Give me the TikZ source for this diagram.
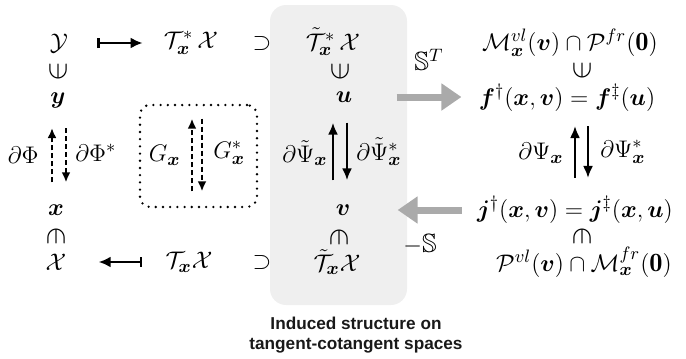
\documentclass[tikz,border=0pt]{standalone}
\usepackage{amsmath,amssymb,bm}
\usepackage{fontspec}
\newfontfamily\capfont{Liberation Sans}
\usetikzlibrary{arrows.meta,calc}
\definecolor{boxgray}{HTML}{EFEFEF}
\definecolor{arrgray}{HTML}{AAAAAA}
\begin{document}
\begin{tikzpicture}[x=0.5pt,y=-0.5pt,
  every node/.style={inner sep=0pt, font=\fontsize{13.2}{15}\selectfont},
  memb/.style={scale=1.25},
  mapar/.style={line width=1.1pt, {Bar[width=5pt,line width=1.1pt]}-{Latex[length=6pt,width=5.5pt]}},
  dasharr/.style={line width=1.4pt, dash pattern=on 2.5pt off 1.5pt, -{Latex[length=5pt,width=4.5pt]}},
  solarr/.style={line width=1.1pt, -{Latex[length=6pt,width=5pt]}},
  grayarr/.style={draw=arrgray, line width=3.5pt, -{Triangle[length=10pt,width=13pt]}},
  dotbox/.style={draw, line width=1.3pt, dash pattern=on 0pt off 3.6pt, line cap=round, rounded corners=5pt, minimum width=58.5pt, minimum height=51pt},
  capt/.style={font=\capfont\bfseries\fontsize{8.6}{10}\selectfont, align=center, text=black!90}
]
\useasboundingbox (0,0) rectangle (686,359);
\fill[boxgray, rounded corners=8pt] (270,5) rectangle (407,305);
\node[dotbox] (Gbox) at (198.5,156) {};

% left column
\node (Y) at (59,43) {$\mathcal{Y}$};
\node[rotate=90,memb] (ni1) at (58,71) {$\in$};
\node (y) at (58,100) {$\bm{y}$};
\node (x) at (56,210) {$\bm{x}$};
\node[rotate=-90,memb] (in1) at (56,236) {$\in$};
\node (X) at (56,262) {$\mathcal{X}$};

% second column
\node (TsX) at (191,43) {$\mathcal{T}^*_{\bm{x}}\,\mathcal{X}$};
\node (TX) at (189,262) {$\mathcal{T}_{\bm{x}}\mathcal{X}$};
\node (sup1) at (262,43) {$\supset$};
\node (sup2) at (262,262) {$\supset$};

% middle column
\node (TtsX) at (333,42) {$\tilde{\mathcal{T}}^*_{\bm{x}}\,\mathcal{X}$};
\node[rotate=90,memb] (ni2) at (340,71) {$\in$};
\node (u) at (344,97) {$\bm{u}$};
\node (v) at (343,210) {$\bm{v}$};
\node[rotate=-90,memb] (in2) at (339,237) {$\in$};
\node (TtX) at (337,262) {$\tilde{\mathcal{T}}_{\bm{x}}\mathcal{X}$};

% right column
\node (MP) at (570,43) {$\mathcal{M}^{vl}_{\bm{x}}(\bm{v})\cap\mathcal{P}^{fr}(\mathbf{0})$};
\node[rotate=90,memb] (ni3) at (582,70) {$\in$};
\node (f) at (567,98) {$\bm{f}^\dagger(\bm{x},\bm{v})=\bm{f}^\ddagger(\bm{u})$};
\node (j) at (575,210) {$\bm{j}^\dagger(\bm{x},\bm{v})=\bm{j}^\ddagger(\bm{x},\bm{u})$};
\node[rotate=-90,memb] (in3) at (582,236) {$\in$};
\node (PM) at (584,262) {$\mathcal{P}^{vl}(\bm{v})\cap\mathcal{M}^{fr}_{\bm{x}}(\mathbf{0})$};

% labels
\node[anchor=east] (dP) at (39,155) {$\partial\Phi$};
\node[anchor=west] (dPs) at (75,153) {$\partial\Phi^*$};
\node[anchor=east] (Gx) at (181,155) {$G_{\bm{x}}$};
\node[anchor=west] (Gxs) at (213,153) {$G^*_{\bm{x}}$};
\node[anchor=east] (dPt) at (328,153) {$\partial\tilde{\Psi}_{\bm{x}}$};
\node[anchor=west] (dPts) at (356,152) {$\partial\tilde{\Psi}^*_{\bm{x}}$};
\node[anchor=east] (dPsi) at (564,153) {$\partial\Psi_{\bm{x}}$};
\node[anchor=west] (dPsis) at (600,152) {$\partial\Psi^*_{\bm{x}}$};
\node (ST) at (429,60) {$\mathbb{S}^T$};
\node (mS) at (420,244) {$-\mathbb{S}$};

% horizontal maps
\draw[mapar] ($(Y.east)+(29,0)$) -- ($(TsX.west)+(-21,0)$);
\draw[mapar] ($(TX.west)+(-23,0)$) -- ($(X.east)+(32,0)$);

% dashed arrows
\draw[dasharr] ($(x.north)+(-4,-22)$) -- ($(y.south)+(-6,20)$);
\draw[dasharr] ($(y.south)+(8,20)$) -- ($(x.north)+(10,-22)$);
\draw[dasharr] ($(Gbox.south)+(-6.5,-17)$) -- ($(Gbox.north)+(-6.5,15)$);
\draw[dasharr] ($(Gbox.north)+(3.5,15)$) -- ($(Gbox.south)+(3.5,-17)$);

% solid arrows
\draw[solarr] ($(v.north)+(-10,-24)$) -- ($(u.south)+(-11,20)$);
\draw[solarr] ($(u.south)+(3,20)$) -- ($(v.north)+(4,-24)$);
\draw[solarr] ($(j.north)+(0,-18)$) -- ($(f.south)+(8,14)$);
\draw[solarr] ($(f.south)+(21,14)$) -- ($(j.north)+(13,-18)$);

% gray arrows
\draw[grayarr, shorten <=22pt, shorten >=8.5pt] (u.east) -- (u.east -| f.west);
\draw[grayarr, shorten <=7.5pt, shorten >=23.5pt] (j.west) -- (j.west -| v.east);

\node[capt] (cap) at (356,335) {Induced structure on\\tangent-cotangent spaces};
\end{tikzpicture}
\end{document}
